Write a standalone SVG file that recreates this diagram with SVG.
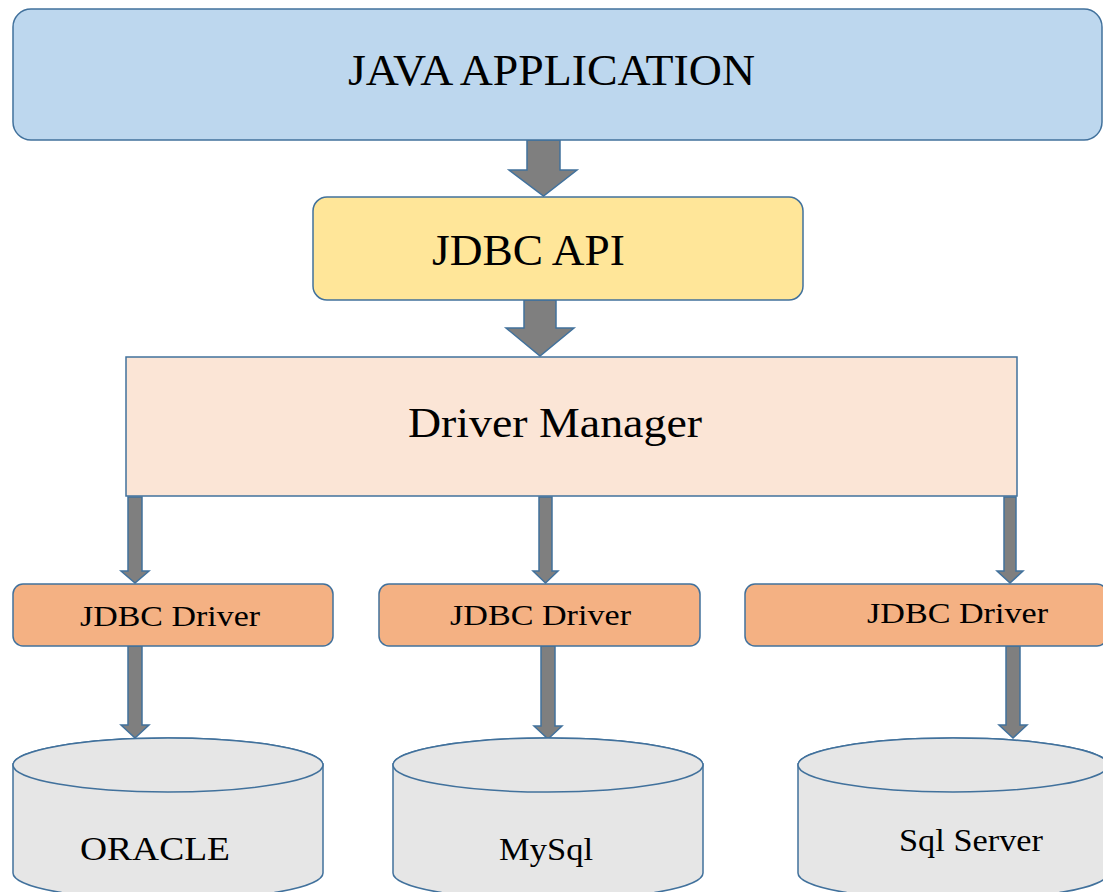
<svg xmlns="http://www.w3.org/2000/svg" width="1103" height="892" viewBox="0 0 1103 892">
<style>
text { font-family: "Liberation Serif", "Times New Roman", serif; fill: #000; }
.box { stroke: #41719C; stroke-width: 1.5; }
.arrow { fill: #7F7F7F; stroke: #41719C; stroke-width: 1.5; stroke-linejoin: miter; }
.db { fill: #E6E6E6; stroke: #41719C; stroke-width: 1.5; }
.drv { fill: #F4B183; stroke: #41719C; stroke-width: 1.5; }
</style>
<rect width="1103" height="892" fill="#FFFFFF"/>
<g id="connectors">
  <polygon class="arrow" points="527,140 560,140 560,170 577,170 543.5,196 509,170 527,170"/>
  <polygon class="arrow" points="524,300 556,300 556,328 574,328 540,356 506,328 524,328"/>
  <polygon class="arrow" points="128,497 142,497 142,571 149,571 135,583 121,571 128,571"/>
  <polygon class="arrow" points="539,497 552,497 552,571 558,571 545.5,583 533,571 539,571"/>
  <polygon class="arrow" points="1004,497 1016,497 1016,571 1023,571 1010,583 997,571 1004,571"/>
  <polygon class="arrow" points="128,646 142,646 142,725 149,725 135,738 121,725 128,725"/>
  <polygon class="arrow" points="541,646 555,646 555,726 562,726 548,739 534,726 541,726"/>
  <polygon class="arrow" points="1006,646 1020,646 1020,725 1027,725 1013,738 999,725 1006,725"/>
</g>
<g id="java-application">
  <rect class="box" x="13" y="9" width="1089" height="131" rx="18" ry="18" fill="#BDD7EE"/>
  <text x="348" y="85" font-size="44" textLength="407" lengthAdjust="spacingAndGlyphs">JAVA APPLICATION</text>
</g>
<g id="jdbc-api">
  <rect class="box" x="313" y="197" width="490" height="103" rx="14" ry="14" fill="#FFE699"/>
  <text x="432" y="265" font-size="44" textLength="193" lengthAdjust="spacingAndGlyphs">JDBC API</text>
</g>
<g id="driver-manager">
  <rect class="box" x="126" y="357" width="891" height="139" fill="#FBE5D6"/>
  <text x="408" y="437" font-size="43" textLength="294" lengthAdjust="spacingAndGlyphs">Driver Manager</text>
</g>
<g id="jdbc-driver-1">
  <rect class="drv" x="13" y="584" width="320" height="62" rx="10" ry="10"/>
  <text x="80" y="626" font-size="29" textLength="180" lengthAdjust="spacingAndGlyphs">JDBC Driver</text>
</g>
<g id="jdbc-driver-2">
  <rect class="drv" x="379" y="584" width="321" height="62" rx="10" ry="10"/>
  <text x="450" y="625" font-size="29" textLength="181" lengthAdjust="spacingAndGlyphs">JDBC Driver</text>
</g>
<g id="jdbc-driver-3">
  <rect class="drv" x="745" y="584" width="362" height="62" rx="10" ry="10"/>
  <text x="867" y="623" font-size="29" textLength="181" lengthAdjust="spacingAndGlyphs">JDBC Driver</text>
</g>
<g id="oracle">
  <path class="db" d="M13,765 L13,873 A155,27 0 0 0 323,873 L323,765 A155,27 0 0 0 13,765 Z"/>
  <ellipse class="db" cx="168" cy="765" rx="155" ry="27"/>
  <text x="80" y="860" font-size="33" textLength="150" lengthAdjust="spacingAndGlyphs">ORACLE</text>
</g>
<g id="mysql">
  <path class="db" d="M393,765 L393,873 A155,27 0 0 0 703,873 L703,765 A155,27 0 0 0 393,765 Z"/>
  <ellipse class="db" cx="548" cy="765" rx="155" ry="27"/>
  <text x="499" y="860" font-size="31" textLength="94" lengthAdjust="spacingAndGlyphs">MySql</text>
</g>
<g id="sql-server">
  <path class="db" d="M798,765 L798,873 A155,27 0 0 0 1108,873 L1108,765 A155,27 0 0 0 798,765 Z"/>
  <ellipse class="db" cx="953" cy="765" rx="155" ry="27"/>
  <text x="899" y="851" font-size="31" textLength="144" lengthAdjust="spacingAndGlyphs">Sql Server</text>
</g>
</svg>
